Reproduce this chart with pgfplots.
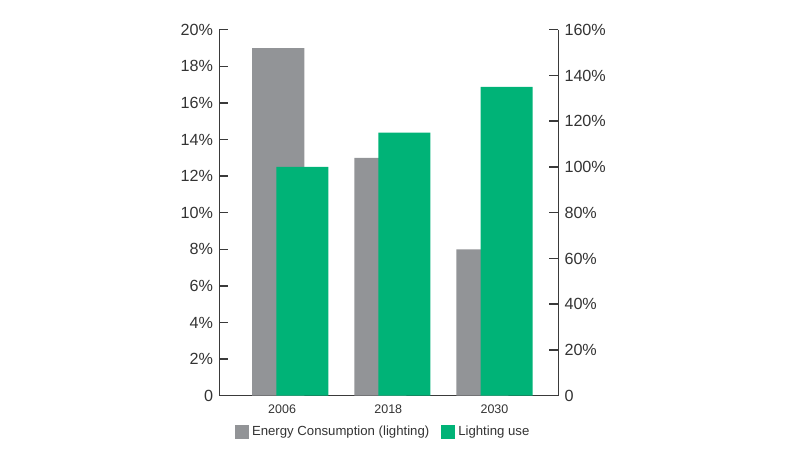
\documentclass[border=0pt]{standalone}
\usepackage{fontspec}
\setmainfont{Liberation Sans}
\usepackage{pgfplots}
\pgfplotsset{compat=1.18}
\definecolor{bargray}{HTML}{929497}
\definecolor{bargreen}{HTML}{00B377}
\definecolor{axisgray}{HTML}{3A3A3A}
\definecolor{textgray}{HTML}{333333}

\pgfplotsset{
  common/.style={
    at={(4.386cm,1.086cm)}, anchor=south west,
    width=6.78cm, height=7.32cm, scale only axis,
    xmin=-0.695, xmax=2.625,
    ymin=0,
    tick align=inside,
    major tick length=0.18cm,
    axis line style={axisgray, line width=0.85pt},
    tick style={axisgray, line width=0.85pt},
    /pgf/number format/assume math mode=true,
    ticklabel style={textgray},
    yticklabel style={font=\fontsize{9.2}{10}\selectfont},
    xticklabel style={font=\fontsize{7.1}{8}\selectfont, yshift=-0.06cm},
  },
}

\begin{document}
\begin{tikzpicture}
\path[use as bounding box] (0,0) rectangle (16cm,9cm);
% left axis: energy consumption
\begin{axis}[
  common,
  axis x line*=bottom, axis y line*=left,
  ymax=20,
  ytick={0,2,4,6,8,10,12,14,16,18,20},
  yticklabels={0,2\%,4\%,6\%,8\%,10\%,12\%,14\%,16\%,18\%,20\%},
  xtick={-0.08,0.96,2.0},
  xticklabels={2006,2018,2030},
  x tick style={draw=none},
]
\addplot[ybar, bar width=0.51, bar shift=-0.118, fill=bargray, draw=none]
  coordinates {(0,19) (1,13) (2,8)};
\end{axis}
% right axis: lighting use
\begin{axis}[
  common,
  axis x line=none, axis y line*=right,
  ymax=160,
  ytick={0,20,40,60,80,100,120,140,160},
  yticklabels={0,20\%,40\%,60\%,80\%,100\%,120\%,140\%,160\%},
  legend style={at={(0.485,-0.098)}, anchor=center, draw=none, fill=none,
    font=\fontsize{7.5}{9}\selectfont, text=textgray,
    legend columns=2,
    /tikz/every even column/.append style={column sep=0.16cm}},
  legend cell align=left,
  legend image code/.code={\fill[#1, draw=none] (0cm,-0.14cm) rectangle (0.28cm,0.14cm);},
]
\addlegendimage{fill=bargray, draw=none}
\addlegendentry{Energy Consumption (lighting)}
\addplot[ybar, bar width=0.51, bar shift=0.118, fill=bargreen, draw=none]
  coordinates {(0,100) (1,115) (2,135)};
\addlegendentry{Lighting use}
\end{axis}
\end{tikzpicture}
\end{document}
